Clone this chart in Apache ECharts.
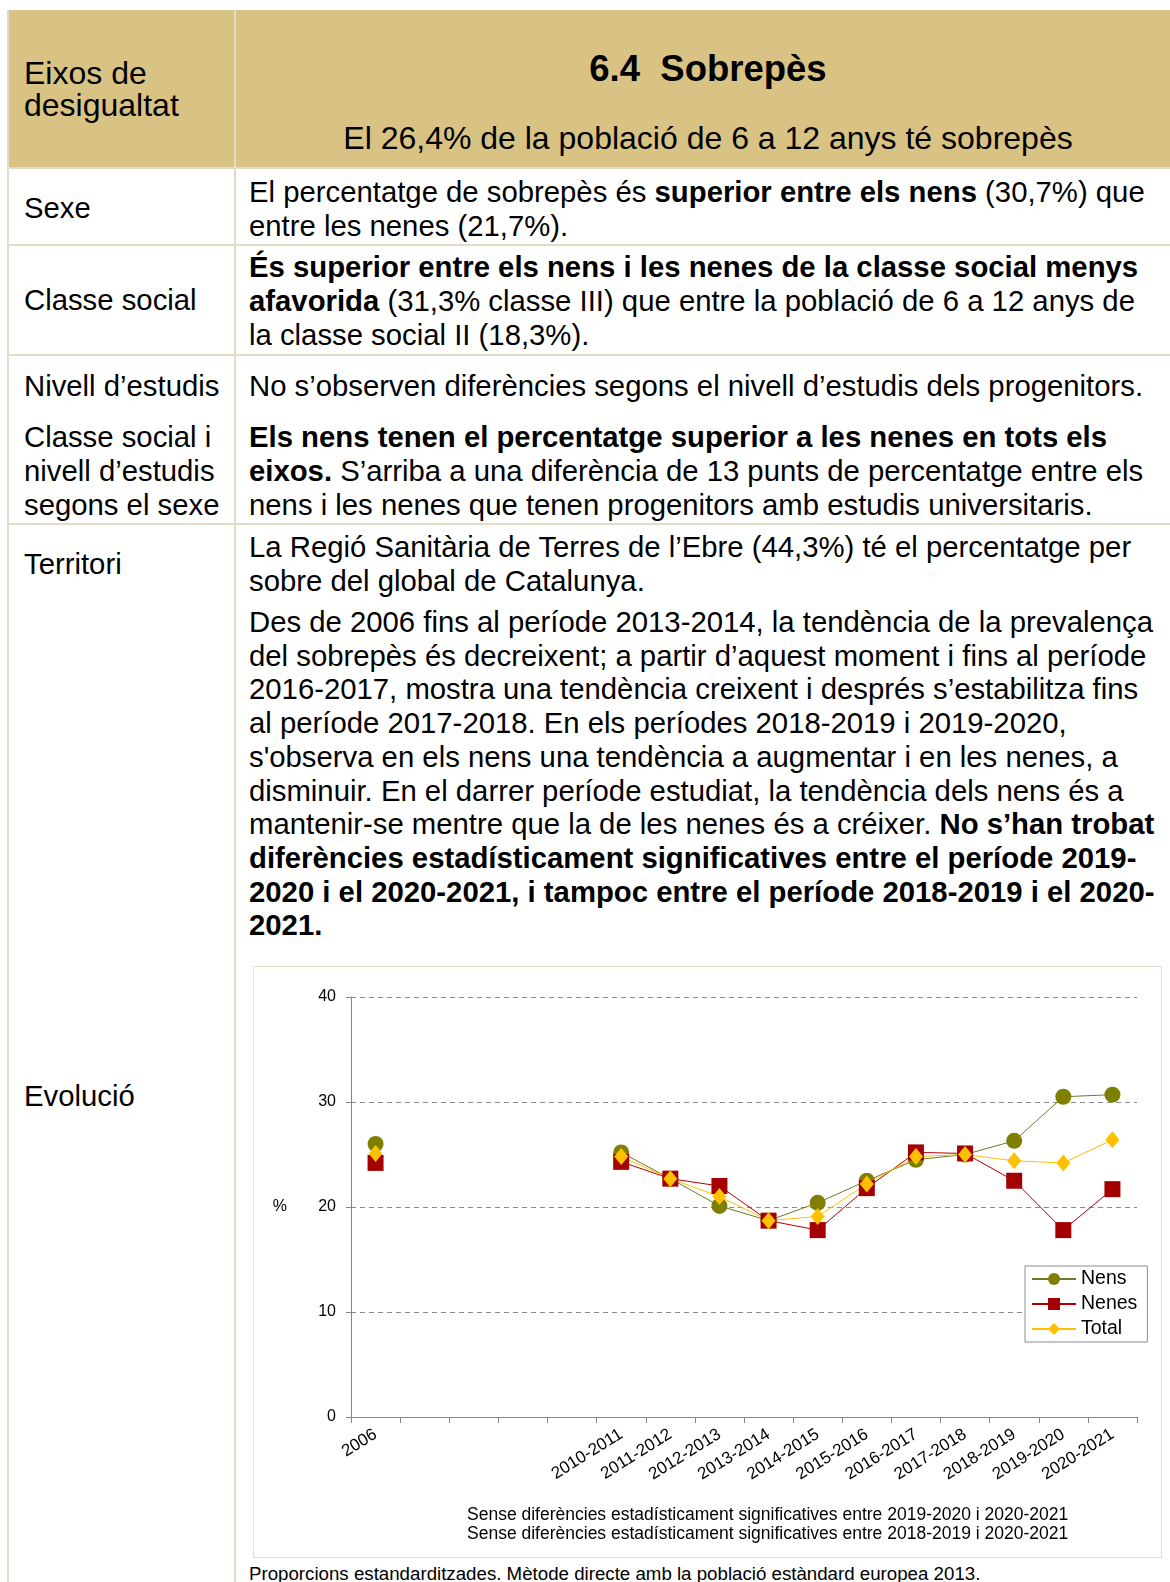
<!DOCTYPE html>
<html>
<head>
<meta charset="utf-8">
<script src="https://cdn.jsdelivr.net/npm/echarts@6/dist/echarts.min.js"></script>
<style>
  body {
    margin: 0;
    width: 1170px;
    height: 1582px;
    overflow: hidden;
    background: #ffffff;
    font-family: "Liberation Sans", Arial, sans-serif;
    color: #000000;
    position: relative;
  }
  .hdr {
    position: absolute;
    left: 8px;
    top: 10px;
    width: 1162px;
    height: 158px;
    background: #d8c384;
  }
  .hline {
    position: absolute;
    left: 8px;
    width: 1162px;
    height: 2px;
    background: #e2ddc6;
  }
  .vline {
    position: absolute;
    top: 10px;
    width: 2px;
    height: 1572px;
    background: #e2ddc6;
  }
  .t {
    position: absolute;
    white-space: nowrap;
    font-size: 29.3px;
    line-height: 34px;
  }
  .lbl {
    left: 24px;
  }
  .txt {
    left: 249px;
  }
  #chartBox {
    position: absolute;
    left: 253px;
    top: 966px;
    width: 909px;
    height: 592px;
    border: 1px solid #e4e0cc;
    box-sizing: border-box;
  }
  #chart {
    width: 907px;
    height: 590px;
  }
  .foot {
    position: absolute;
    left: 249px;
    top: 1564px;
    font-size: 18.7px;
    line-height: 20px;
    white-space: nowrap;
  }
</style>
</head>
<body>
  <div class="hdr"></div>
  <div class="hline" style="top:167px"></div>
  <div class="hline" style="top:244px"></div>
  <div class="hline" style="top:354px"></div>
  <div class="hline" style="top:523px"></div>
  <div class="vline" style="left:7px"></div>
  <div class="vline" style="left:234px"></div>

  <div class="t lbl" style="top:57px;font-size:32px;line-height:32px">Eixos de<br>desigualtat</div>
  <div class="t" style="left:235px;width:946px;text-align:center;top:48px;font-size:36.5px;line-height:42px;font-weight:bold">6.4&nbsp; Sobrepès</div>
  <div class="t" style="left:235px;width:946px;text-align:center;top:120px;font-size:32px;line-height:36px">El 26,4% de la població de 6 a 12 anys té sobrepès</div>

  <div class="t lbl" style="top:191px">Sexe</div>
  <div class="t txt" style="top:175px">El percentatge de sobrepès és <b>superior entre els nens</b> (30,7%) que<br>entre les nenes (21,7%).</div>

  <div class="t lbl" style="top:283px">Classe social</div>
  <div class="t txt" style="top:250px"><b>És superior entre els nens i les nenes de la classe social menys</b><br><b>afavorida</b> (31,3% classe III) que entre la població de 6 a 12 anys de<br>la classe social II (18,3%).</div>

  <div class="t lbl" style="top:369px">Nivell d’estudis</div>
  <div class="t txt" style="top:369px">No s’observen diferències segons el nivell d’estudis dels progenitors.</div>

  <div class="t lbl" style="top:420px">Classe social i<br>nivell d’estudis<br>segons el sexe</div>
  <div class="t txt" style="top:420px"><b>Els nens tenen el percentatge superior a les nenes en tots els</b><br><b>eixos.</b> S’arriba a una diferència de 13 punts de percentatge entre els<br>nens i les nenes que tenen progenitors amb estudis universitaris.</div>

  <div class="t lbl" style="top:547px">Territori</div>
  <div class="t txt" style="top:530px">La Regió Sanitària de Terres de l’Ebre (44,3%) té el percentatge per<br>sobre del global de Catalunya.</div>

  <div class="t lbl" style="top:1079px">Evolució</div>
  <div class="t txt" style="top:605px;line-height:33.7px">Des de 2006 fins al període 2013-2014, la tendència de la prevalença<br>del sobrepès és decreixent; a partir d’aquest moment i fins al període<br>2016-2017, mostra una tendència creixent i després s’estabilitza fins<br>al període 2017-2018. En els períodes 2018-2019 i 2019-2020,<br>s'observa en els nens una tendència a augmentar i en les nenes, a<br>disminuir. En el darrer període estudiat, la tendència dels nens és a<br>mantenir-se mentre que la de les nenes és a créixer. <b>No s’han trobat</b><br><b>diferències estadísticament significatives entre el període 2019-</b><br><b>2020 i el 2020-2021, i tampoc entre el període 2018-2019 i el 2020-</b><br><b>2021.</b></div>

  <div id="chartBox"><div id="chart"></div></div>

  <div class="foot">Proporcions estandarditzades. Mètode directe amb la població estàndard europea 2013.</div>

<script>
  // categories (four unlabeled slots between 2006 and 2010-2011)
  var periods = ['2006', '', '', '', '',
    '2010-2011', '2011-2012', '2012-2013', '2013-2014', '2014-2015', '2015-2016',
    '2016-2017', '2017-2018', '2018-2019', '2019-2020', '2020-2021'];
  var nens = [26.0, null, null, null, null,
    25.2, 22.7, 20.1, 18.7, 20.4, 22.5, 24.5, 25.0, 26.3, 30.5, 30.7];
  var nenes = [24.2, null, null, null, null,
    24.3, 22.7, 22.0, 18.7, 17.8, 21.8, 25.2, 25.1, 22.5, 17.8, 21.7];
  var total = [25.1, null, null, null, null,
    24.8, 22.7, 21.0, 18.7, 19.1, 22.2, 24.8, 25.0, 24.4, 24.2, 26.4];
  var yTicks = [0, 10, 20, 30, 40];
  var notes = [
    'Sense diferències estadísticament significatives entre 2019-2020 i 2020-2021',
    'Sense diferències estadísticament significatives entre 2018-2019 i 2020-2021'
  ];

  var chartEl = document.getElementById('chart');
  var chart = echarts.init(chartEl);
  var axisColor = '#868686';
  var fontFamily = '"Liberation Sans", Arial, sans-serif';

  var options = {
    animation: false,
    textStyle: { fontFamily: fontFamily },
    grid: {
      left: 97,
      right: 24,
      top: 30,
      bottom: 140
    },
    legend: {
      orient: 'vertical',
      left: 771,
      top: 299,
      padding: [3, 10, 3, 6],
      itemGap: 5,
      itemWidth: 44,
      itemHeight: 15,
      borderColor: '#8c8c8c',
      borderWidth: 1,
      backgroundColor: '#ffffff',
      textStyle: { fontSize: 19.5, color: '#000000' },
      data: ['Nens', 'Nenes', 'Total']
    },
    xAxis: {
      type: 'category',
      data: periods,
      boundaryGap: true,
      axisLine: { lineStyle: { color: axisColor, width: 1 } },
      axisTick: { show: true, length: 6, interval: 0, lineStyle: { color: axisColor } },
      axisLabel: {
        interval: 0,
        rotate: 32,
        fontSize: 17,
        color: '#000000',
        margin: 16
      },
      splitLine: { show: false }
    },
    yAxis: {
      type: 'value',
      min: yTicks[0],
      max: yTicks[yTicks.length - 1],
      interval: 10,
      name: '%',
      nameLocation: 'middle',
      nameRotate: 0,
      nameGap: 64,
      nameTextStyle: { fontSize: 16, color: '#000000' },
      axisLine: { show: true, lineStyle: { color: axisColor, width: 1 } },
      axisTick: { show: true, length: 5, lineStyle: { color: axisColor } },
      axisLabel: { fontSize: 16, color: '#000000', margin: 15 },
      splitLine: {
        show: true,
        lineStyle: { color: '#8a8a8a', type: [5, 4], width: 1 }
      }
    },
    graphic: [
      {
        type: 'text',
        left: 213,
        top: 539,
        style: { text: notes[0], fontSize: 17.5, fill: '#000000', fontFamily: fontFamily }
      },
      {
        type: 'text',
        left: 213,
        top: 558,
        style: { text: notes[1], fontSize: 17.5, fill: '#000000', fontFamily: fontFamily }
      }
    ],
    series: [
      {
        name: 'Nens',
        type: 'line',
        data: nens,
        connectNulls: false,
        symbol: 'circle',
        symbolSize: 16,
        itemStyle: { color: '#7f7f00' },
        lineStyle: { color: '#6b7b2b', width: 1 }
      },
      {
        name: 'Nenes',
        type: 'line',
        data: nenes,
        connectNulls: false,
        symbol: 'rect',
        symbolSize: 16,
        itemStyle: { color: '#a50000' },
        lineStyle: { color: '#b00000', width: 1 }
      },
      {
        name: 'Total',
        type: 'line',
        data: total,
        connectNulls: false,
        symbol: 'diamond',
        symbolSize: [14, 17],
        itemStyle: { color: '#ffc000' },
        lineStyle: { color: '#ffc000', width: 1 }
      }
    ]
  };

  chart.setOption(options);
  window.onresize = function () {
    chart.resize();
  };
</script>
</body>
</html>
